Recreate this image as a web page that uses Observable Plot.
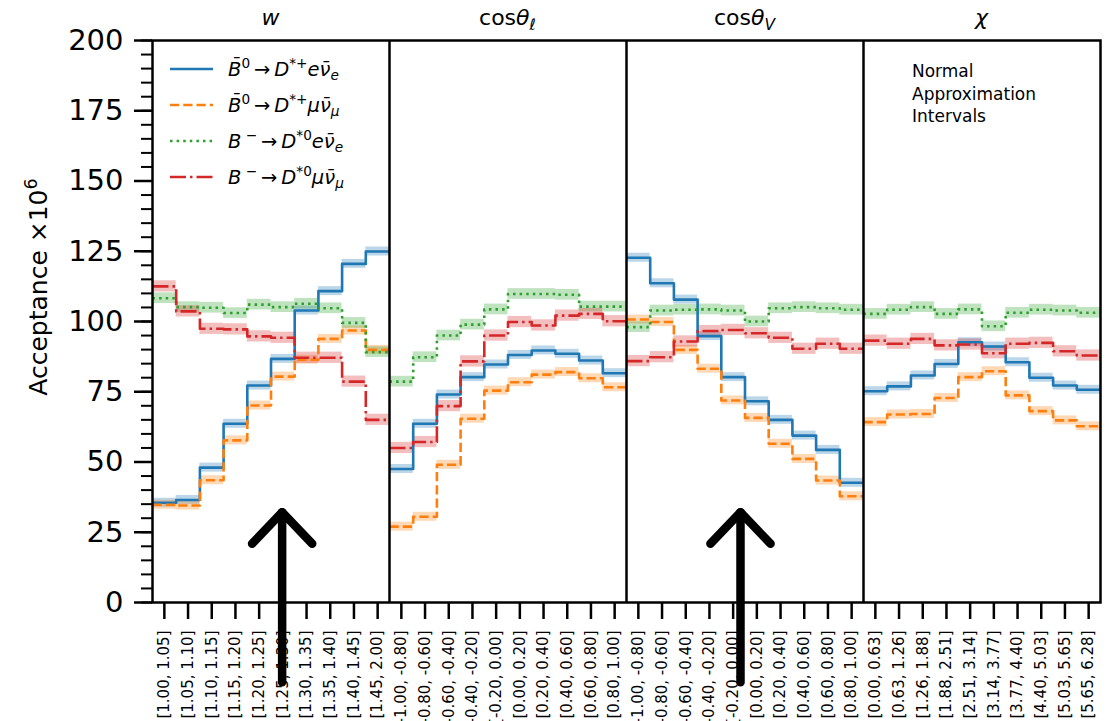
<!DOCTYPE html>
<html><head><meta charset="utf-8">
<script src="https://cdn.jsdelivr.net/npm/d3@7"></script>
<script src="https://cdn.jsdelivr.net/npm/@observablehq/plot@0.6"></script>
<style>body{margin:0;background:#fff;} svg{display:block}</style>
</head><body><div id="chart"></div>
<script>
// ---- data ----
const wLabels = ["[1.00, 1.05]","[1.05, 1.10]","[1.10, 1.15]","[1.15, 1.20]","[1.20, 1.25]","[1.25, 1.30]","[1.30, 1.35]","[1.35, 1.40]","[1.40, 1.45]","[1.45, 2.00]"];
const cosLabels = ["[-1.00, -0.80]","[-0.80, -0.60]","[-0.60, -0.40]","[-0.40, -0.20]","[-0.20, 0.00]","[0.00, 0.20]","[0.20, 0.40]","[0.40, 0.60]","[0.60, 0.80]","[0.80, 1.00]"];
const chiLabels = ["[0.00, 0.63]","[0.63, 1.26]","[1.26, 1.88]","[1.88, 2.51]","[2.51, 3.14]","[3.14, 3.77]","[3.77, 4.40]","[4.40, 5.03]","[5.03, 5.65]","[5.65, 6.28]"];
const tickLabels = [...wLabels, ...cosLabels, ...cosLabels, ...chiLabels];

// acceptance x 1e6, 10 bins per panel: w, cos(theta_l), cos(theta_V), chi
const blueB0e = [35.5,36.5,48.0,63.6,77.2,86.7,103.9,110.8,120.5,124.9,
                 47.5,63.6,74.0,80.2,84.7,88.1,89.7,88.5,86.1,81.6,
                 122.7,113.6,107.8,94.8,80.2,71.6,65.0,59.4,54.3,42.6,
                 75.2,76.9,80.8,84.9,92.6,91.1,85.5,80.0,77.2,75.7];
const orangeB0mu = [34.8,34.5,43.5,57.7,70.1,80.4,86.4,93.8,96.8,89.9,
                 27.0,30.5,49.0,65.4,75.4,78.4,81.1,82.0,79.8,76.6,
                 100.7,99.8,89.9,83.2,71.9,65.7,56.5,51.1,43.4,37.8,
                 64.2,66.9,67.1,72.8,80.2,82.3,73.7,68.1,64.8,62.7];
const greenBme = [108.3,105.1,104.9,103.0,106.0,105.1,106.3,104.7,99.5,89.1,
                 78.6,87.3,95.0,98.9,104.3,109.8,109.8,109.5,105.3,105.3,
                 98.0,103.9,104.2,104.3,103.9,100.0,104.7,105.1,104.7,104.2,
                 102.7,104.2,105.1,102.7,104.3,98.3,103.1,104.2,103.9,103.1];
const redBmmu = [112.5,103.6,97.4,97.2,94.7,94.2,87.1,87.1,78.6,65.0,
                 55.0,57.1,69.9,85.8,95.0,99.8,98.6,102.1,102.7,100.1,
                 85.9,87.3,92.9,96.6,97.0,95.8,94.2,90.3,92.1,90.3,
                 93.2,92.1,93.8,91.5,91.8,88.7,92.1,92.4,89.4,87.9];
// half-width of the normal approximation interval per series
const errHalf = [1.6, 1.6, 1.9, 2.0];

const seriesValues = [blueB0e, orangeB0mu, greenBme, redBmmu];
const seriesColors = ["#1f77b4","#ff7f0e","#2ca02c","#d62728"];
const seriesDash = [null, "9.25,4", "2.5,4.1", "16,4,2.5,4"];

// annotation arrows (data units)
const arrowX = [5.47, 24.81];

// ---- build tables ----
const marks = [];
seriesValues.forEach((vals, s) => {
  const bands = vals.map((v, i) => ({x1: i, x2: i + 1, lo: v - errHalf[s], hi: v + errHalf[s]}));
  marks.push(Plot.rect(bands, {x1: "x1", x2: "x2", y1: "lo", y2: "hi", fill: seriesColors[s], fillOpacity: 0.3}));
});
seriesValues.forEach((vals, s) => {
  const pts = [];
  for (let p = 0; p < 4; p++) {
    for (let i = 0; i < 10; i++) pts.push({x: p * 10 + i, y: vals[p * 10 + i], panel: p});
    pts.push({x: p * 10 + 10, y: vals[p * 10 + 9], panel: p});
  }
  marks.push(Plot.line(pts, {x: "x", y: "y", z: "panel", curve: "step-after", stroke: seriesColors[s],
    strokeWidth: 2.6, strokeDasharray: seriesDash[s], strokeLinecap: "butt"}));
});

const arrowLines = [];
arrowX.forEach((ax, k) => {
  arrowLines.push({x: ax, y: -28.4, g: "s" + k}, {x: ax, y: 32.1, g: "s" + k});
  arrowLines.push({x: ax - 1.27, y: 20.9, g: "h" + k}, {x: ax, y: 32.1, g: "h" + k}, {x: ax + 1.27, y: 20.9, g: "h" + k});
});

const FONT = "'DejaVu Sans', sans-serif";

const plot = Plot.plot({
  width: 1115, height: 721,
  marginLeft: 152, marginRight: 15, marginTop: 40, marginBottom: 119,
  x: {domain: [0, 40]},
  y: {domain: [0, 200]},
  style: {fontFamily: FONT, background: "white", color: "black"},
  marks: [
    ...marks,
    Plot.ruleX([10, 20, 30], {stroke: "black", strokeWidth: 2.5}),
    Plot.frame({stroke: "black", strokeWidth: 2.5}),
    Plot.axisY(d3.range(0, 201, 5), {tickSize: 11, tickFormat: () => "", strokeWidth: 2, label: null}),
    Plot.axisY(d3.range(0, 201, 25), {tickSize: 18, tickPadding: 11, fontSize: 29, strokeWidth: 2.5, label: null}),
    Plot.axisX(d3.range(40).map(i => i + 0.5), {tickSize: 17, tickPadding: 11, tickRotate: -90, fontSize: 15,
      tickFormat: d => tickLabels[Math.floor(d)], strokeWidth: 2.5, label: null}),
    Plot.line(arrowLines, {x: "x", y: "y", z: "g", stroke: "black", strokeWidth: 8.5, strokeLinecap: "round", strokeLinejoin: "round"})
  ]
});
document.getElementById("chart").append(plot);

// ---- rich text annotations ----
const svg = d3.select(plot);
const xs = plot.scale("x");

function rich(g, x, y, parts, size, anchor) {
  const t = g.append("text").attr("x", x).attr("y", y)
    .style("font-family", FONT).style("font-size", size + "px")
    .style("text-anchor", anchor || "start").style("fill", "black");
  let off = 0;
  parts.forEach(p => {
    const target = p.sup ? -size * 0.42 : p.sub ? size * 0.22 : 0;
    const ts = t.append("tspan").text(p.t).attr("dy", target - off);
    off = target;
    ts.style("font-size", ((p.sup || p.sub) ? size * 0.7 : size) + "px");
    ts.style("font-style", p.i ? "italic" : "normal");
  });
  return t;
}

const titleG = svg.append("g");
const centers = [5, 15, 25, 35].map(c => xs.apply(c));
rich(titleG, centers[0], 25, [{t: "w", i: true}], 22, "middle");
rich(titleG, centers[1], 25, [{t: "cos"}, {t: "θ", i: true}, {t: "ℓ", i: true, sub: true}], 22, "middle");
rich(titleG, centers[2], 25, [{t: "cos"}, {t: "θ", i: true}, {t: "V", i: true, sub: true}], 22, "middle");
rich(titleG, centers[3], 25, [{t: "χ", i: true}], 22, "middle");

// y label
svg.append("g").attr("transform", "translate(47,287) rotate(-90)").call(g => {
  rich(g, 0, 0, [{t: "Acceptance ×10"}, {t: "6", sup: true}], 25, "middle");
});

// legend
const arrowTxt = "\u2009→\u2009";
const legendItems = [
  [{t: "B\u0304", i: true}, {t: "0", sup: true}, {t: arrowTxt}, {t: "D", i: true}, {t: "*+", sup: true}, {t: "e", i: true}, {t: "ν\u0304", i: true}, {t: "e", i: true, sub: true}],
  [{t: "B\u0304", i: true}, {t: "0", sup: true}, {t: arrowTxt}, {t: "D", i: true}, {t: "*+", sup: true}, {t: "μ", i: true}, {t: "ν\u0304", i: true}, {t: "μ", i: true, sub: true}],
  [{t: "B", i: true}, {t: " −", sup: true}, {t: arrowTxt}, {t: "D", i: true}, {t: "*0", sup: true}, {t: "e", i: true}, {t: "ν\u0304", i: true}, {t: "e", i: true, sub: true}],
  [{t: "B", i: true}, {t: " −", sup: true}, {t: arrowTxt}, {t: "D", i: true}, {t: "*0", sup: true}, {t: "μ", i: true}, {t: "ν\u0304", i: true}, {t: "μ", i: true, sub: true}]
];
const leg = svg.append("g");
legendItems.forEach((parts, k) => {
  const ly = 69 + k * 36;
  leg.append("line").attr("x1", 170).attr("x2", 213).attr("y1", ly).attr("y2", ly)
    .attr("stroke", seriesColors[k]).attr("stroke-width", 2.6)
    .attr("stroke-dasharray", seriesDash[k]);
  rich(leg, 228, ly + 7, parts, 19.5, "start");
});

// note
const note = svg.append("g");
["Normal", "Approximation", "Intervals"].forEach((s, k) => {
  note.append("text").attr("x", 912).attr("y", 77 + k * 22.5)
    .style("font-family", FONT).style("font-size", "17px").style("text-anchor", "start")
    .style("fill", "black").text(s);
});
</script>
</body></html>
